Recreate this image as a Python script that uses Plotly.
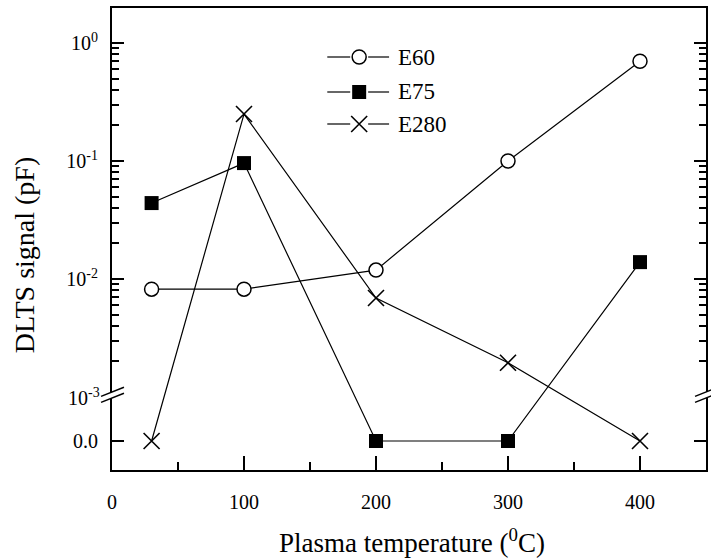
import numpy as np
import plotly.graph_objects as go

# ---------------- data ----------------
temps = [30, 100, 200, 300, 400]
e60 = [0.0082, 0.0082, 0.0119, 0.100, 0.70]
e75 = [0.044, 0.096, 0.0, 0.0, 0.0139]
e280 = [0.0, 0.25, 0.0069, 0.00195, 0.0]
series_names = ["E60", "E75", "E280"]
x_ticks = [0, 100, 200, 300, 400]
log_ticks = [1e-2, 1e-1, 1e0]
log_tick_text = ["10<sup>-2</sup>", "10<sup>-1</sup>", "10<sup>0</sup>"]

# ---------------- geometry (pixels) ----------------
W, H = 711, 558
L, R, T, B = 112, 708, 8, 470          # plot area edges
PW, PH = R - L, B - T
Y_DEC = 118.0                           # px per decade
Y_1 = 43.0                              # pixel of 10^0
Y_M3 = Y_1 + 3 * Y_DEC                  # pixel of 10^-3 (axis break)
Y_ZERO = 441.0                          # pixel of 0.0

u_top = (Y_1 - T) / Y_DEC
u_bot = -3 - (B - Y_M3) / Y_DEC
u_zero = -3 - (Y_ZERO - Y_M3) / Y_DEC


def scale(v):
    """Broken axis scale: log10 above the break, zero placed below it."""
    v = np.asarray(v, dtype=float)
    out = np.full(v.shape, u_zero)
    pos = v > 0
    out[pos] = np.log10(v[pos])
    return out


def pxx(p):
    return (p - L) / PW


def pxy(p):
    return (B - p) / PH


FONT = "Liberation Serif, Times New Roman, serif"
fig = go.Figure()

styles = {
    "E60": dict(symbol="circle", size=14, color="white", line=dict(color="black", width=1.5)),
    "E75": dict(symbol="square", size=14, color="black", line=dict(color="black", width=0)),
    "E280": dict(symbol="x-thin-open", size=16, color="black", line=dict(color="black", width=1.6)),
}

# helper trace for the log minor-tick axis
fig.add_trace(go.Scatter(x=[None], y=[None], xaxis="x", yaxis="y2",
                         showlegend=False, hoverinfo="skip"))

for name, vals in zip(series_names, [e60, e75, e280]):
    fig.add_trace(go.Scatter(
        x=temps, y=scale(vals), mode="lines+markers", name=name,
        line=dict(color="black", width=1.2), marker=styles[name],
        showlegend=False, cliponaxis=False,
    ))

# ---------------- custom legend (overlay axis in paper-like units) ----------------
leg_y = [57, 92, 124]
for name, py in zip(series_names, leg_y):
    yy = pxy(py)
    fig.add_trace(go.Scatter(x=[pxx(328), pxx(351), None, pxx(369), pxx(390)],
                             y=[yy, yy, None, yy, yy], mode="lines",
                             line=dict(color="black", width=1.2), connectgaps=False,
                             xaxis="x3", yaxis="y3", showlegend=False, hoverinfo="skip"))
    fig.add_trace(go.Scatter(x=[pxx(360)], y=[yy], mode="markers", marker=styles[name],
                             xaxis="x3", yaxis="y3", showlegend=False, hoverinfo="skip"))
    fig.add_annotation(x=pxx(397), y=yy, xref="paper", yref="paper", text=name,
                       showarrow=False, xanchor="left", yanchor="middle",
                       font=dict(family=FONT, size=23, color="black"))

# ---------------- axes ----------------
minor_vals = [k * 10.0 ** d for d in (-3, -2, -1) for k in range(2, 10)]
fig.update_layout(
    width=W, height=H, autosize=False,
    margin=dict(l=L, r=W - R, t=T, b=H - B, pad=0),
    paper_bgcolor="white", plot_bgcolor="rgba(0,0,0,0)",
    font=dict(family=FONT, size=20, color="black"),
    xaxis=dict(range=[0, 450], tickvals=x_ticks, ticks="inside", ticklen=14, tickwidth=1.5,
               tickcolor="black", showline=True, linewidth=2, linecolor="black", mirror=True,
               showgrid=False, zeroline=False, ticklabelstandoff=13,
               minor=dict(dtick=50, ticks="inside", ticklen=8, tickwidth=1.5, tickcolor="black",
                          showgrid=False),
               tickfont=dict(family=FONT, size=20)),
    yaxis=dict(range=[u_bot, u_top], tickvals=[u_zero, -2, -1, 0],
               ticktext=["0.0"] + log_tick_text, ticks="inside", ticklen=12, tickwidth=1.5,
               tickcolor="black", showline=True, linewidth=2, linecolor="black", mirror="ticks",
               showgrid=False, zeroline=False, ticklabelstandoff=8,
               tickfont=dict(family=FONT, size=20)),
    yaxis2=dict(type="log", domain=[pxy(Y_M3), 1], range=[-3, u_top], anchor="x",
                tickvals=minor_vals, ticks="inside", ticklen=7, tickwidth=1.5, tickcolor="black",
                showticklabels=False, showline=False, mirror="ticks", showgrid=False,
                zeroline=False),
    xaxis3=dict(domain=[0, 1], range=[0, 1], visible=False, anchor="y3", overlaying="x"),
    yaxis3=dict(domain=[0, 1], range=[0, 1], visible=False, anchor="x3", overlaying="y"),
)

# 10^-3 label at the break
fig.add_annotation(x=0, y=-3, xref="paper", yref="y", text="10<sup>-3</sup>", showarrow=False,
                   xanchor="right", yanchor="middle", xshift=-10,
                   font=dict(family=FONT, size=20, color="black"))

# axis titles
fig.add_annotation(x=pxx(25), y=pxy(255), xref="paper", yref="paper", text="DLTS signal (pF)",
                   showarrow=False, textangle=-90, xanchor="center", yanchor="middle",
                   font=dict(family=FONT, size=28, color="black"))
fig.add_annotation(x=pxx(413), y=pxy(541), xref="paper", yref="paper",
                   text="Plasma temperature (<sup>0</sup>C)", showarrow=False,
                   xanchor="center", yanchor="middle",
                   font=dict(family=FONT, size=27, color="black"))

# axis break marks (left and right)
def break_marks(xc):
    slope = -0.4
    shapes = []
    def y1(x):
        return 392 + slope * (x - xc)
    xa, xb = xc - 4, xc + 4
    path = (f"M {pxx(xa)},{pxy(y1(xa))} L {pxx(xb)},{pxy(y1(xb))} "
            f"L {pxx(xb)},{pxy(y1(xb) + 6)} L {pxx(xa)},{pxy(y1(xa) + 6)} Z")
    shapes.append(dict(type="path", path=path, xref="paper", yref="paper",
                       fillcolor="white", line=dict(width=0), layer="above"))
    for off in (0, 6):
        shapes.append(dict(type="line", xref="paper", yref="paper",
                           x0=pxx(xc - 11), y0=pxy(y1(xc - 11) + off),
                           x1=pxx(xc + 12), y1=pxy(y1(xc + 12) + off),
                           line=dict(color="black", width=1.5), layer="above"))
    return shapes

fig.update_layout(shapes=break_marks(L) + break_marks(R))

fig.write_html("out.html")
